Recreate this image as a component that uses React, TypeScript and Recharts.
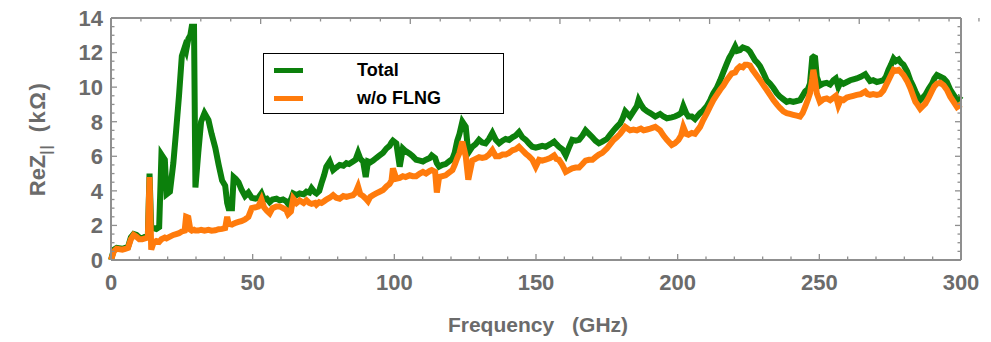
import React from 'react'
import { LineChart, Line, XAxis, YAxis } from 'recharts'

// frequency samples (GHz)
const freq = [
  0, 1, 2, 4, 5, 6, 7, 8, 9, 10,
  11, 12, 13, 13.6, 14.2, 15, 16, 17, 17.8, 19,
  19.6, 20.8, 22, 23, 24, 25, 26, 26.5, 27.3, 28,
  28.5, 29.3, 29.8, 30.8, 31.8, 33, 34.4, 35.5, 36.8, 38,
  39.2, 40.3, 41, 41.5, 42.7, 43.3, 44, 45, 46, 47.3,
  48.5, 49.7, 51, 52, 53.1, 54, 55, 56, 57, 58.4,
  59.5, 60.7, 61.8, 62.5, 63.5, 64.3, 65.5, 66.6, 68, 69,
  70, 70.8, 72, 72.5, 73.5, 74.3, 75.2, 76, 77.2, 78.4,
  79.5, 80.7, 82, 83.1, 84, 85.4, 86.3, 87.2, 88, 89,
  89.9, 90.7, 91.5, 92.5, 93.6, 94.8, 96, 97.2, 98.3, 99,
  99.5, 100.7, 101.9, 103, 104, 105.4, 106.5, 107.7, 109, 110.1,
  111.2, 112.5, 113.2, 114.4, 115, 115.8, 117, 118.1, 119.3, 120.5,
  121.3, 122.2, 123, 124, 125.2, 126.1, 127.5, 128.7, 129.9, 131,
  132.2, 133.4, 134.6, 135.8, 137, 138.2, 139.3, 140.5, 141.7, 142.8,
  144, 145.2, 146.4, 147.5, 148.7, 149.9, 151.1, 152.2, 153.4, 155,
  156.4, 157.2, 158.1, 159.3, 160.5, 161.6, 162.8, 164, 165.2, 166.4,
  167.5, 168.7, 169.9, 171, 172.2, 173.4, 175, 176.2, 177.4, 178.5,
  179.7, 180.6, 181.5, 183.2, 184.4, 185.6, 186.2, 187, 188, 189.2,
  190.3, 192.1, 193.8, 195, 196.2, 197.9, 199, 200.3, 201.2, 202,
  203, 203.8, 205, 206.1, 207.9, 209, 210.3, 211.5, 212.6, 213.8,
  215, 216.2, 217.3, 218.2, 219.1, 220.3, 221, 222, 223, 223.8,
  224.6, 225.5, 226.4, 227.3, 228.2, 229.1, 230.3, 231.4, 232.6, 233.8,
  235, 236.1, 237.3, 238.5, 239.6, 240.8, 242, 243.2, 244.1, 245,
  246, 246.7, 247.5, 247.9, 248.5, 249.1, 250.2, 251.4, 252.6, 253.8,
  255, 255.8, 256.7, 257.6, 258.5, 259.7, 260.9, 262, 263.2, 264.6,
  266.2, 267, 267.9, 269, 270.3, 271.5, 272.6, 273.5, 274.4, 275.3,
  276.2, 277, 278, 278.9, 279.7, 281, 282.1, 283, 283.9, 284.8,
  285.6, 286.5, 287.4, 288.6, 289.8, 290.6, 291.5, 292.7, 293.9, 295,
  296.2, 297.4, 298.6, 299.5, 300,
]

// ReZ total (kOhm)
const total = [
  0, 0.6, 0.7, 0.65, 0.7, 0.75, 1.3, 1.5, 1.45, 1.3,
  1.25, 1.35, 1.4, 5.0, 1.85, 1.85, 1.8, 1.9, 6.1, 5.8,
  3.8, 3.95, 5.6, 7.5, 9.5, 11.8, 12.3, 12.1, 12.8, 13.0,
  13.5, 13.5, 4.2, 6.2, 8.0, 8.5, 8.1, 7.3, 6.5, 5.5,
  4.6, 4.3, 3.3, 3.0, 3.0, 4.8, 4.7, 4.5, 4.1, 3.7,
  3.9, 3.6, 3.55, 3.6, 3.85, 3.5, 3.55, 3.35, 3.5, 3.55,
  3.45, 3.5, 3.4, 3.25, 3.5, 3.85, 3.75, 3.85, 3.8, 3.95,
  3.9, 4.15, 3.9, 3.85, 4.0, 4.45, 4.9, 5.4, 5.7, 5.2,
  5.35, 5.5, 5.45, 5.6, 5.55, 5.7, 5.8, 6.2, 5.85, 5.7,
  4.8, 5.7, 5.65, 5.75, 5.9, 6.05, 6.2, 6.45, 6.6, 6.8,
  6.9, 6.75, 5.4, 6.45, 6.3, 6.15, 6.0, 5.8, 5.75, 5.7,
  5.8, 5.9, 6.05, 5.9, 5.6, 5.4, 5.5, 5.55, 5.7, 5.85,
  6.2, 6.9, 7.3, 8.0, 7.7, 6.2, 6.55, 6.7, 6.95, 6.8,
  6.75, 7.0, 7.35, 6.95, 6.75, 6.9, 7.0, 6.95, 7.1, 7.2,
  7.4, 7.1, 6.95, 6.75, 6.55, 6.5, 6.55, 6.6, 6.55, 6.7,
  6.85, 6.7, 6.55, 6.4, 6.05, 6.5, 6.95, 6.9, 6.95, 7.2,
  7.5, 7.3, 7.1, 6.9, 6.75, 6.85, 7.0, 7.25, 7.5, 7.7,
  7.9, 8.2, 8.6, 8.3, 8.6, 8.9, 9.25, 9.0, 8.75, 8.6,
  8.5, 8.3, 8.45, 8.3, 8.2, 8.25, 8.3, 8.4, 8.5, 8.9,
  8.5, 8.3, 8.3, 8.15, 8.5, 8.65, 8.9, 9.25, 9.65, 9.95,
  10.4, 10.9, 11.35, 11.7, 11.95, 12.35, 12.1, 12.15, 12.3, 12.25,
  12.2, 12.05, 11.8, 11.55, 11.4, 11.2, 10.8, 10.4, 10.2, 9.95,
  9.65, 9.45, 9.3, 9.15, 9.2, 9.15, 9.2, 9.25, 9.5, 9.75,
  9.9, 10.2, 11.7, 11.75, 11.7, 10.6, 10.1, 10.2, 10.25, 10.15,
  10.4, 10.5, 10.0, 10.3, 10.2, 10.3, 10.4, 10.45, 10.5, 10.6,
  10.75, 10.55, 10.35, 10.4, 10.3, 10.35, 10.4, 10.6, 11.0, 11.3,
  11.65, 11.5, 11.6, 11.4, 11.3, 10.9, 10.4, 10.1, 9.75, 9.45,
  9.25, 9.4, 9.55, 9.9, 10.2, 10.5, 10.7, 10.6, 10.5, 10.3,
  9.85, 9.55, 9.25, 9.4, 9.5,
]

// ReZ without FLNG (kOhm)
const woFlng = [
  0, 0.5, 0.65, 0.6, 0.65, 0.7, 1.2, 1.45, 1.35, 1.2,
  1.2, 1.25, 1.3, 4.8, 0.6, 1.0, 1.1, 1.05, 1.2, 1.3,
  1.25, 1.35, 1.45, 1.5, 1.55, 1.65, 1.7, 2.5, 2.45, 1.75,
  1.7, 1.75, 1.7, 1.7, 1.75, 1.7, 1.75, 1.7, 1.72, 1.78,
  1.8, 1.85, 2.5, 2.1, 2.05, 2.1, 2.15, 2.2, 2.25, 2.35,
  2.5, 3.0, 3.05, 3.1, 3.5, 3.05, 2.85, 2.7, 3.0, 3.1,
  3.1, 3.0, 2.9, 2.65, 2.8, 3.55, 3.3, 3.45, 3.3, 3.45,
  3.3, 3.25, 3.3, 3.2, 3.35, 3.3, 3.4, 3.5, 3.6, 3.75,
  3.6, 3.55, 3.7, 3.65, 3.7, 3.75, 3.9, 4.25, 3.8, 3.7,
  3.55, 3.4, 3.65, 3.75, 3.85, 3.95, 4.05, 4.25, 4.4, 4.6,
  5.3, 4.7, 4.75, 4.85, 4.8, 4.9, 4.85, 4.85, 5.0, 5.1,
  5.0, 5.15, 5.2, 5.1, 3.9, 4.8, 4.85, 4.9, 5.05, 5.2,
  5.5, 5.9, 6.2, 6.85, 6.0, 4.65, 5.75, 5.85, 5.95, 5.9,
  5.95, 6.1, 6.35, 6.0, 6.0, 6.1, 6.1, 6.2, 6.35, 6.4,
  6.55, 6.35, 6.15, 6.0, 5.8, 5.4, 5.8, 5.75, 5.8, 5.9,
  6.05, 5.85, 5.8, 5.5, 5.1, 5.2, 5.3, 5.35, 5.35, 5.55,
  5.75, 5.8, 5.8, 5.95, 6.1, 6.2, 6.45, 6.7, 6.95, 7.1,
  7.3, 7.5, 7.7, 7.5, 7.55, 7.5, 7.55, 7.6, 7.5, 7.55,
  7.6, 7.7, 7.5, 7.2, 6.95, 6.65, 6.75, 6.95, 7.2, 7.7,
  7.3, 7.25, 7.35, 7.3, 7.7, 8.1, 8.5, 8.9, 9.25, 9.55,
  9.85, 10.1, 10.4, 10.6, 10.8, 10.85, 11.05, 11.2, 11.15, 11.3,
  11.3, 11.25, 11.0, 10.8, 10.6, 10.4, 10.1, 9.85, 9.55, 9.25,
  9.0, 8.8, 8.6, 8.5, 8.45, 8.4, 8.35, 8.3, 8.5, 8.85,
  9.3, 9.65, 10.5, 11.0, 10.4, 9.65, 9.15, 9.3, 9.35, 9.25,
  9.4, 9.5, 8.95, 9.3, 9.25, 9.4, 9.45, 9.5, 9.55, 9.6,
  9.75, 9.6, 9.55, 9.6, 9.55, 9.6, 9.8, 10.1, 10.4, 10.7,
  11.0, 10.95, 11.0, 10.85, 10.7, 10.35, 9.95, 9.55, 9.15, 8.95,
  8.75, 8.9, 9.05, 9.4, 9.8, 10.05, 10.2, 10.25, 10.1, 9.85,
  9.45, 9.15, 8.85, 8.95, 9.0,
]

const xTicks = [
  0, 10, 20, 30, 40, 50, 60, 70, 80, 90, 100, 110, 120, 130, 140, 150,
  160, 170, 180, 190, 200, 210, 220, 230, 240, 250, 260, 270, 280, 290, 300,
]
const yTicks = [
  0, 0.5, 1, 1.5, 2, 2.5, 3, 3.5, 4, 4.5, 5, 5.5, 6, 6.5, 7, 7.5,
  8, 8.5, 9, 9.5, 10, 10.5, 11, 11.5, 12, 12.5, 13, 13.5, 14,
]

const seriesNames = ['Total', 'w/o FLNG']
const seriesColors = ['#0c800c', '#ff7b0c']

const data = freq.map((f, i) => ({ f, total: total[i], woFlng: woFlng[i] }))

const FRAME = '#8f8f8f'
const LABEL = '#6b6b6b'
const FONT = '"Liberation Sans", Arial, sans-serif'

const BottomTick = ({ x, y, payload }: any) => {
  const major = payload.value % 50 === 0
  return (
    <g>
      <line x1={x} x2={x} y1={y} y2={y - (major ? 6 : 3.5)} stroke={FRAME} strokeWidth={1.3} />
      {major && (
        <text x={x} y={y + 30} textAnchor="middle" fill={LABEL} fontSize={22} fontWeight="bold" fontFamily={FONT}>
          {payload.value}
        </text>
      )}
    </g>
  )
}

const TopTick = ({ x, y, payload }: any) => {
  const major = payload.value % 50 === 0
  return <line x1={x} x2={x} y1={y} y2={y + (major ? 6 : 3.5)} stroke={FRAME} strokeWidth={1.3} />
}

const LeftTick = ({ x, y, payload }: any) => {
  const major = payload.value % 2 === 0
  return (
    <g>
      <line x1={x} x2={x + (major ? 6 : 3.5)} y1={y} y2={y} stroke={FRAME} strokeWidth={1.3} />
      {major && (
        <text x={x - 8} y={y + 7.8} textAnchor="end" fill={LABEL} fontSize={22} fontWeight="bold" fontFamily={FONT}>
          {payload.value}
        </text>
      )}
    </g>
  )
}

const RightTick = ({ x, y, payload }: any) => {
  const major = payload.value % 2 === 0
  return <line x1={x} x2={x - (major ? 6 : 3.5)} y1={y} y2={y} stroke={FRAME} strokeWidth={1.3} />
}

const XTitle = () => (
  <text x={538} y={332} textAnchor="middle" fill={LABEL} fontSize={21} fontWeight="bold" fontFamily={FONT}>
    Frequency
    <tspan dx={18}>(GHz)</tspan>
  </text>
)

const YTitle = () => (
  <text
    transform="translate(45,139) rotate(-90)"
    textAnchor="middle"
    fill={LABEL}
    fontSize={22}
    fontWeight="bold"
    fontFamily={FONT}
  >
    ReZ
    <tspan fontSize={15} dy={6} letterSpacing={1}>||</tspan>
    <tspan dy={-6} dx={12} letterSpacing={1.5}>(kΩ)</tspan>
  </text>
)

function LegendBox() {
  return (
    <div
      style={{
        position: 'absolute',
        left: 263,
        top: 53,
        width: 239,
        height: 59,
        border: '1px solid #000',
        background: '#fff',
        fontFamily: FONT,
        fontWeight: 'bold',
        fontSize: 18,
        color: '#000',
      }}
    >
      {seriesNames.map((name, i) => (
        <div key={name} style={{ position: 'absolute', left: 0, top: 4 + i * 28, height: 24, width: '100%' }}>
          <div
            style={{
              position: 'absolute',
              left: 10,
              top: 10,
              width: 29,
              height: 5,
              background: seriesColors[i],
            }}
          />
          <span style={{ position: 'absolute', left: 93, top: 1, lineHeight: '22px' }}>{name}</span>
        </div>
      ))}
    </div>
  )
}

export default function App() {
  return (
    <div style={{ position: 'absolute', left: 0, top: 0, width: 991, height: 342, background: '#fff' }}>
      <LineChart width={991} height={342} data={data} margin={{ top: 17, right: 29, bottom: 0, left: 0 }}>
        <XAxis
          dataKey="f"
          type="number"
          domain={[0, 300]}
          ticks={xTicks}
          interval={0}
          height={82}
          tickSize={0}
          tickMargin={0}
          tickLine={false}
          axisLine={{ stroke: FRAME, strokeWidth: 2 }}
          tick={<BottomTick />}
          label={<XTitle />}
        />
        <XAxis
          xAxisId="top"
          orientation="top"
          type="number"
          domain={[0, 300]}
          allowDataOverflow
          ticks={xTicks}
          interval={0}
          height={1}
          tickSize={0}
          tickMargin={0}
          tickLine={false}
          axisLine={{ stroke: FRAME, strokeWidth: 2 }}
          tick={<TopTick />}
        />
        <YAxis
          type="number"
          domain={[0, 14]}
          ticks={yTicks}
          interval={0}
          width={111}
          tickSize={0}
          tickMargin={0}
          tickLine={false}
          axisLine={{ stroke: FRAME, strokeWidth: 2 }}
          tick={<LeftTick />}
          label={<YTitle />}
        />
        <YAxis
          yAxisId="right"
          orientation="right"
          type="number"
          domain={[0, 14]}
          allowDataOverflow
          ticks={yTicks}
          interval={0}
          width={1}
          tickSize={0}
          tickMargin={0}
          tickLine={false}
          axisLine={{ stroke: FRAME, strokeWidth: 2 }}
          tick={<RightTick />}
        />
        <Line
          type="linear"
          dataKey="total"
          name={seriesNames[0]}
          stroke={seriesColors[0]}
          strokeWidth={6}
          dot={false}
          isAnimationActive={false}
        />
        <Line
          type="linear"
          dataKey="woFlng"
          name={seriesNames[1]}
          stroke={seriesColors[1]}
          strokeWidth={6}
          dot={false}
          isAnimationActive={false}
        />
      </LineChart>
      <LegendBox />
    </div>
  )
}
